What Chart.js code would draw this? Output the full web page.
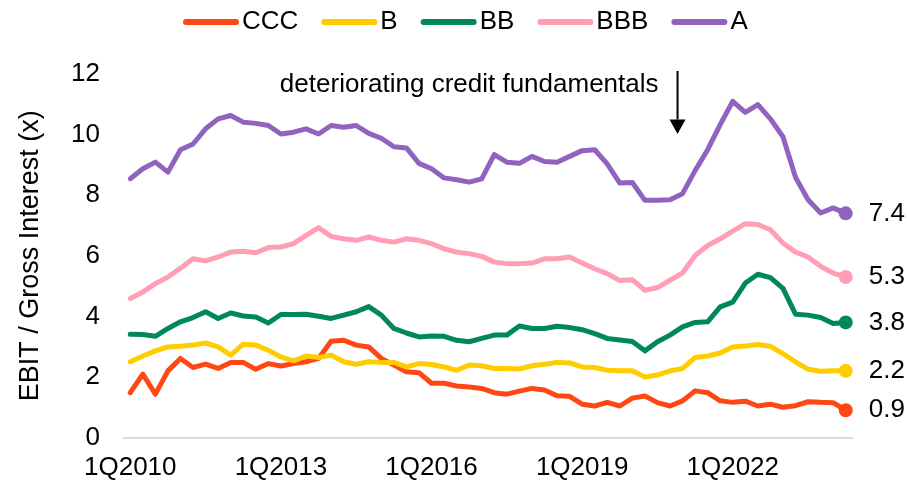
<!DOCTYPE html>
<html>
<head>
<meta charset="utf-8">
<title>EBIT / Gross Interest by rating</title>
<script src="https://cdn.jsdelivr.net/npm/chart.js@4.4.1/dist/chart.umd.min.js"></script>
<style>
  html, body { margin: 0; padding: 0; background: #fff; }
</style>
</head>
<body>
<canvas id="coverageChart" width="907" height="483"></canvas>
<script>
// quarterly axis, 1Q2010 .. 2Q2024
const FIRST_YEAR = 2010;
const N_QUARTERS = 58;
const quarters = [];
for (let i = 0; i < N_QUARTERS; i++) {
    quarters.push(`${i % 4 + 1}Q${FIRST_YEAR + Math.floor(i / 4)}`);
}
const tickLabels = ['1Q2010', '1Q2013', '1Q2016', '1Q2019', '1Q2022'];

// EBIT / gross interest coverage, by rating bucket
const ccc = [1.48, 2.09, 1.43, 2.20, 2.61, 2.31, 2.42, 2.28, 2.48, 2.48,
             2.25, 2.44, 2.36, 2.44, 2.50, 2.61, 3.18, 3.21, 3.05, 2.99,
             2.61, 2.39, 2.17, 2.14, 1.79, 1.79, 1.70, 1.67, 1.62, 1.48,
             1.43, 1.53, 1.62, 1.57, 1.38, 1.36, 1.10, 1.04, 1.16, 1.04,
             1.30, 1.37, 1.15, 1.04, 1.21, 1.54, 1.48, 1.21, 1.16, 1.20,
             1.04, 1.10, 1.00, 1.05, 1.18, 1.16, 1.15, 0.9];
const b   = [2.50, 2.69, 2.86, 2.99, 3.01, 3.05, 3.12, 2.99, 2.72, 3.08,
             3.05, 2.88, 2.66, 2.53, 2.69, 2.64, 2.72, 2.50, 2.42, 2.50,
             2.48, 2.48, 2.33, 2.44, 2.41, 2.33, 2.22, 2.39, 2.37, 2.28,
             2.28, 2.26, 2.37, 2.42, 2.48, 2.46, 2.33, 2.31, 2.22, 2.20,
             2.20, 2.00, 2.06, 2.20, 2.28, 2.64, 2.69, 2.79, 2.99, 3.02,
             3.07, 3.01, 2.77, 2.50, 2.25, 2.19, 2.20, 2.2];
const bb  = [3.41, 3.40, 3.34, 3.60, 3.82, 3.96, 4.15, 3.93, 4.11, 4.01,
             3.98, 3.78, 4.06, 4.06, 4.07, 4.00, 3.93, 4.04, 4.15, 4.32,
             4.04, 3.60, 3.45, 3.32, 3.35, 3.34, 3.21, 3.16, 3.27, 3.38,
             3.38, 3.68, 3.60, 3.60, 3.67, 3.63, 3.56, 3.43, 3.27, 3.22,
             3.17, 2.86, 3.16, 3.38, 3.65, 3.80, 3.82, 4.31, 4.47, 5.10,
             5.39, 5.28, 4.92, 4.07, 4.04, 3.96, 3.76, 3.8];
const bbb = [4.59, 4.80, 5.08, 5.30, 5.59, 5.90, 5.83, 5.96, 6.12, 6.15,
             6.10, 6.27, 6.29, 6.40, 6.67, 6.93, 6.64, 6.56, 6.51, 6.62,
             6.51, 6.45, 6.56, 6.51, 6.40, 6.23, 6.12, 6.07, 5.98, 5.79,
             5.74, 5.74, 5.76, 5.90, 5.90, 5.96, 5.76, 5.57, 5.41, 5.18,
             5.21, 4.86, 4.95, 5.19, 5.43, 6.01, 6.34, 6.56, 6.81, 7.06,
             7.03, 6.86, 6.42, 6.12, 5.96, 5.65, 5.43, 5.3];
const a   = [8.54, 8.87, 9.09, 8.76, 9.50, 9.69, 10.19, 10.52, 10.63, 10.41,
             10.37, 10.30, 10.02, 10.08, 10.19, 10.02, 10.30, 10.24, 10.30, 10.04,
             9.88, 9.60, 9.56, 9.05, 8.87, 8.57, 8.51, 8.43, 8.54, 9.34,
             9.09, 9.05, 9.28, 9.11, 9.09, 9.28, 9.47, 9.50, 9.03, 8.40,
             8.42, 7.83, 7.83, 7.85, 8.05, 8.81, 9.50, 10.33, 11.10, 10.73,
             10.99, 10.52, 9.93, 8.59, 7.85, 7.41, 7.58, 7.4];

const ratingNames = ['CCC', 'B', 'BB', 'BBB', 'A'];
const ratingValues = [ccc, b, bb, bbb, a];
const ratingColors = ['#FF4713', '#FFCC00', '#00875A', '#FF9EB5', '#8F63BE'];

const FONT_FAMILY = "'Liberation Sans', Arial, sans-serif";
const LABEL_SIZE = 26;
Chart.defaults.font.family = FONT_FAMILY;
Chart.defaults.color = '#000';

// legend row across the top: short rounded line + name
const lineLegend = {
    id: 'lineLegend',
    afterDraw(chart) {
        const ctx = chart.ctx;
        let x = 183;
        const y = 22;
        ctx.save();
        ctx.font = `${LABEL_SIZE}px ${FONT_FAMILY}`;
        ctx.textBaseline = 'middle';
        ctx.textAlign = 'left';
        chart.data.datasets.forEach(ds => {
            ctx.strokeStyle = ds.borderColor;
            ctx.lineWidth = 6;
            ctx.lineCap = 'round';
            ctx.beginPath();
            ctx.moveTo(x + 3, y);
            ctx.lineTo(x + 53, y);
            ctx.stroke();
            x += 59;
            ctx.fillStyle = '#000';
            ctx.fillText(ds.label, x, y);
            x += ctx.measureText(ds.label).width + 23;
        });
        ctx.restore();
    }
};

// latest value printed next to each series' end dot
const endLabels = {
    id: 'endLabels',
    afterDatasetsDraw(chart) {
        const ctx = chart.ctx;
        ctx.save();
        ctx.font = `${LABEL_SIZE}px ${FONT_FAMILY}`;
        ctx.textBaseline = 'middle';
        ctx.textAlign = 'left';
        ctx.fillStyle = '#000';
        chart.data.datasets.forEach((ds, i) => {
            const meta = chart.getDatasetMeta(i);
            const pt = meta.data[meta.data.length - 1];
            const v = ds.data[ds.data.length - 1];
            ctx.fillText(v.toFixed(1), pt.x + 23, pt.y);
        });
        ctx.restore();
    }
};

// "deteriorating credit fundamentals" note with a down arrow
const noteArrow = {
    id: 'noteArrow',
    afterDraw(chart) {
        const ctx = chart.ctx;
        const xs = chart.scales.x, ys = chart.scales.y;
        const ax = xs.getPixelForValue(43.6);
        const yTop = ys.getPixelForValue(12.1);
        const yHead = ys.getPixelForValue(10.5);
        const yTip = ys.getPixelForValue(10.02);
        ctx.save();
        ctx.strokeStyle = '#000';
        ctx.fillStyle = '#000';
        ctx.lineWidth = 2;
        ctx.beginPath();
        ctx.moveTo(ax, yTop);
        ctx.lineTo(ax, yHead);
        ctx.stroke();
        ctx.beginPath();
        ctx.moveTo(ax - 8, yHead);
        ctx.lineTo(ax + 8, yHead);
        ctx.lineTo(ax, yTip);
        ctx.closePath();
        ctx.fill();
        ctx.font = `${LABEL_SIZE}px ${FONT_FAMILY}`;
        ctx.textAlign = 'right';
        ctx.textBaseline = 'alphabetic';
        ctx.fillText('deteriorating credit fundamentals', ax - 19, ys.getPixelForValue(11.4));
        ctx.restore();
    }
};

const datasets = ratingNames.map((name, i) => ({
    label: name,
    data: ratingValues[i],
    borderColor: ratingColors[i],
    backgroundColor: ratingColors[i],
    borderWidth: 5,
    borderJoinStyle: 'round',
    borderCapStyle: 'round',
    tension: 0,
    pointRadius: c => (c.dataIndex === c.dataset.data.length - 1 ? 7 : 0),
    pointHoverRadius: 0,
    pointBorderWidth: 0,
    pointBackgroundColor: ratingColors[i],
    order: ratingNames.length - i
}));

new Chart(document.getElementById('coverageChart').getContext('2d'), {
    type: 'line',
    data: { labels: quarters, datasets: datasets },
    options: {
        responsive: false,
        animation: false,
        events: [],
        layout: { padding: { top: 74, left: 14, right: 55, bottom: 0 } },
        plugins: {
            legend: { display: false },
            tooltip: { enabled: false }
        },
        scales: {
            x: {
                offset: true,
                grid: { display: false, drawTicks: false },
                border: { display: true, color: '#d9d9d9', width: 2 },
                ticks: {
                    autoSkip: false,
                    maxRotation: 0,
                    padding: 15,
                    font: { size: LABEL_SIZE },
                    callback: v => (tickLabels.includes(quarters[v]) ? quarters[v] : '')
                },
                afterFit: s => { s.height = 45.5; }
            },
            y: {
                min: 0,
                max: 12,
                border: { display: false },
                grid: { display: false, drawTicks: false },
                ticks: { stepSize: 2, padding: 24, font: { size: LABEL_SIZE } },
                title: {
                    display: true,
                    text: 'EBIT / Gross Interest (x)',
                    font: { size: 27 },
                    padding: 0
                },
                afterFit: s => { s.width = 110; }
            }
        }
    },
    plugins: [lineLegend, endLabels, noteArrow]
});
</script>
</body>
</html>
